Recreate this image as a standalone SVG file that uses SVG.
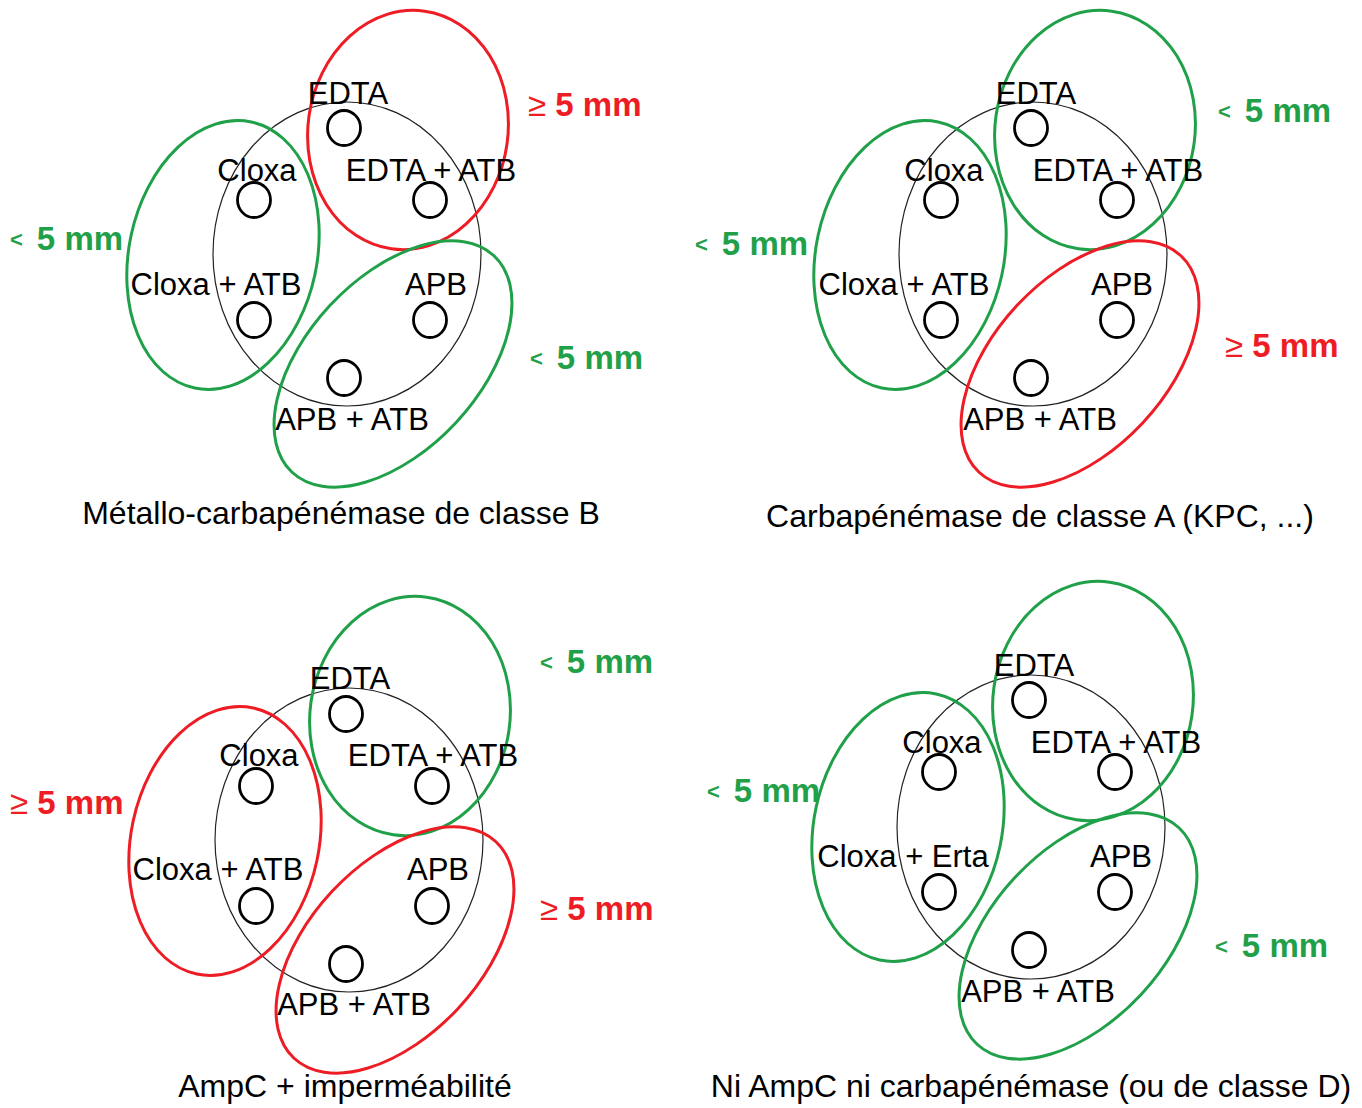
<svg xmlns="http://www.w3.org/2000/svg" width="1362" height="1108" viewBox="0 0 1362 1108">
<style>
.bg{fill:#ffffff}
.big{fill:none;stroke:#222;stroke-width:1.2}
.disk{fill:none;stroke:#000;stroke-width:2.8}
.r{fill:none;stroke:#ee1c24;stroke-width:3}
.g{fill:none;stroke:#1fa049;stroke-width:3}
.t{font-family:"Liberation Sans",Arial,sans-serif;font-size:31px;fill:#000;text-anchor:middle}
.cap{font-family:"Liberation Sans",Arial,sans-serif;font-size:32px;fill:#000;text-anchor:middle}
.mr{font-family:"Liberation Sans",Arial,sans-serif;font-size:33px;font-weight:bold;fill:#ee1c24}
.mg{font-family:"Liberation Sans",Arial,sans-serif;font-size:33px;font-weight:bold;fill:#1fa049}
.sym{font-weight:normal}
.lt{font-size:22px}
</style>
<defs>
<g id="disks">
<ellipse class="disk" cx="344" cy="128" rx="16.5" ry="17.5"/>
<ellipse class="disk" cx="254" cy="200" rx="16.5" ry="17.5"/>
<ellipse class="disk" cx="430" cy="200" rx="16.5" ry="17.5"/>
<ellipse class="disk" cx="254" cy="320" rx="16.5" ry="17.5"/>
<ellipse class="disk" cx="430" cy="320" rx="16.5" ry="17.5"/>
<ellipse class="disk" cx="344" cy="378" rx="16.5" ry="17.5"/>
</g>
</defs>
<rect class="bg" x="0" y="0" width="1362" height="1108"/>

<!-- Panel 1 -->
<g id="panel1">
<g id="p1-shapes">
<ellipse class="big" cx="347" cy="254" rx="134" ry="152"/>
<use href="#disks"/>
<ellipse id="p1-edta-zone" class="r" cx="408" cy="130" rx="100" ry="120" transform="rotate(8 408 130)"/>
<ellipse id="p1-cloxa-zone" class="g" cx="223" cy="255" rx="94" ry="136" transform="rotate(12 223 255)"/>
<ellipse id="p1-apb-zone" class="g" cx="393" cy="364" rx="86" ry="148" transform="rotate(43 393 364)"/>
</g>
<g id="p1-labels">
<text class="t" x="348" y="104">EDTA</text>
<text class="t" x="257" y="181">Cloxa</text>
<text class="t" x="431" y="181">EDTA + ATB</text>
<text class="t" x="216" y="295">Cloxa + ATB</text>
<text class="t" x="436" y="295">APB</text>
<text class="t" x="352" y="430">APB + ATB</text>
<text class="cap" x="341" y="524">Métallo-carbapénémase de classe B</text>
<text class="mr" x="528" y="116"><tspan class="sym">≥</tspan> 5 mm</text>
<text class="mg" x="10" y="247"><tspan class="lt">&lt;</tspan><tspan dx="14" dy="3">5 mm</tspan></text>
<text class="mg" x="530" y="366"><tspan class="lt">&lt;</tspan><tspan dx="14" dy="3">5 mm</tspan></text>
</g>
</g>

<!-- Panel 2 -->
<g id="panel2">
<g id="p2-shapes" transform="translate(687 0)">
<ellipse class="big" cx="346" cy="254" rx="134" ry="152"/>
<use href="#disks"/>
<ellipse id="p2-edta-zone" class="g" cx="408" cy="130" rx="100" ry="120" transform="rotate(8 408 130)"/>
<ellipse id="p2-cloxa-zone" class="g" cx="223" cy="255" rx="94" ry="136" transform="rotate(12 223 255)"/>
<ellipse id="p2-apb-zone" class="r" cx="393" cy="364" rx="86" ry="148" transform="rotate(43 393 364)"/>
</g>
<g id="p2-labels">
<text class="t" x="1036" y="104">EDTA</text>
<text class="t" x="944" y="181">Cloxa</text>
<text class="t" x="1118" y="181">EDTA + ATB</text>
<text class="t" x="904" y="295">Cloxa + ATB</text>
<text class="t" x="1122" y="295">APB</text>
<text class="t" x="1040" y="430">APB + ATB</text>
<text class="cap" x="1040" y="527">Carbapénémase de classe A (KPC, ...)</text>
<text class="mg" x="1218" y="119"><tspan class="lt">&lt;</tspan><tspan dx="14" dy="3">5 mm</tspan></text>
<text class="mg" x="695" y="252"><tspan class="lt">&lt;</tspan><tspan dx="14" dy="3">5 mm</tspan></text>
<text class="mr" x="1225" y="357"><tspan class="sym">≥</tspan> 5 mm</text>
</g>
</g>

<!-- Panel 3 -->
<g id="panel3">
<g id="p3-shapes" transform="translate(2 586)">
<ellipse class="big" cx="347" cy="254" rx="134" ry="152"/>
<use href="#disks"/>
<ellipse id="p3-edta-zone" class="g" cx="408" cy="130" rx="100" ry="120" transform="rotate(8 408 130)"/>
<ellipse id="p3-cloxa-zone" class="r" cx="223" cy="255" rx="94" ry="136" transform="rotate(12 223 255)"/>
<ellipse id="p3-apb-zone" class="r" cx="393" cy="364" rx="86" ry="148" transform="rotate(43 393 364)"/>
</g>
<g id="p3-labels">
<text class="t" x="350" y="689">EDTA</text>
<text class="t" x="259" y="766">Cloxa</text>
<text class="t" x="433" y="766">EDTA + ATB</text>
<text class="t" x="218" y="880">Cloxa + ATB</text>
<text class="t" x="438" y="880">APB</text>
<text class="t" x="354" y="1015">APB + ATB</text>
<text class="cap" x="345" y="1097">AmpC + imperméabilité</text>
<text class="mg" x="540" y="670"><tspan class="lt">&lt;</tspan><tspan dx="14" dy="3">5 mm</tspan></text>
<text class="mr" x="10" y="814"><tspan class="sym">≥</tspan> 5 mm</text>
<text class="mr" x="540" y="920"><tspan class="sym">≥</tspan> 5 mm</text>
</g>
</g>

<!-- Panel 4 -->
<g id="panel4">
<g id="p4-shapes" transform="translate(685 572)">
<ellipse class="big" cx="346" cy="255" rx="134" ry="152"/>
<use href="#disks"/>
<ellipse id="p4-edta-zone" class="g" cx="408" cy="129" rx="100" ry="120" transform="rotate(8 408 129)"/>
<ellipse id="p4-cloxa-zone" class="g" cx="223" cy="255" rx="94" ry="136" transform="rotate(12 223 255)"/>
<ellipse id="p4-apb-zone" class="g" cx="393" cy="364" rx="86" ry="148" transform="rotate(43 393 364)"/>
</g>
<g id="p4-labels">
<text class="t" x="1034" y="676">EDTA</text>
<text class="t" x="942" y="753">Cloxa</text>
<text class="t" x="1116" y="753">EDTA + ATB</text>
<text class="t" x="903" y="867">Cloxa + Erta</text>
<text class="t" x="1121" y="867">APB</text>
<text class="t" x="1038" y="1002">APB + ATB</text>
<text class="cap" x="1031" y="1097">Ni AmpC ni carbapénémase (ou de classe D)</text>
<text class="mg" x="707" y="799"><tspan class="lt">&lt;</tspan><tspan dx="14" dy="3">5 mm</tspan></text>
<text class="mg" x="1215" y="954"><tspan class="lt">&lt;</tspan><tspan dx="14" dy="3">5 mm</tspan></text>
</g>
</g>
</svg>
